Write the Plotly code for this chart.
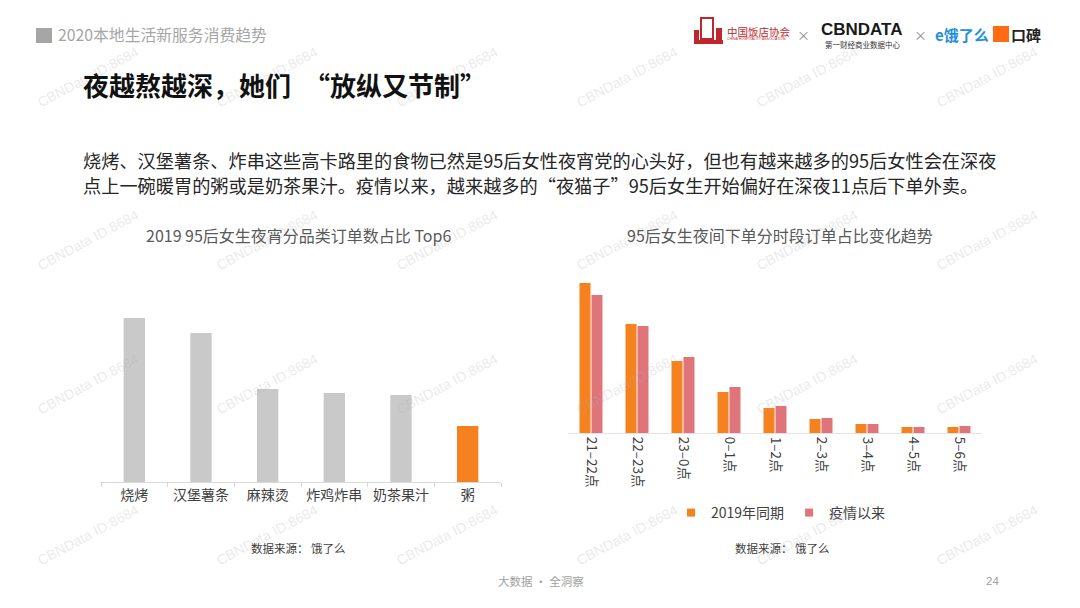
import plotly.graph_objects as go

W, H = 1080, 608
FONT = "Noto Sans CJK SC"

# ---------------- data ----------------
food_categories = ["烧烤", "汉堡薯条", "麻辣烫", "炸鸡炸串", "奶茶果汁", "粥"]
food_values = [16.4, 14.9, 9.3, 8.9, 8.7, 5.6]
food_colors = ["#C9C9C9", "#C9C9C9", "#C9C9C9", "#C9C9C9", "#C9C9C9", "#F5811F"]

time_slots = ["21–22点", "22–23点", "23–0点", "0–1点", "1–2点", "2–3点", "3–4点", "4–5点", "5–6点"]
series_2019 = [15.0, 10.9, 7.2, 4.1, 2.5, 1.4, 0.9, 0.6, 0.6]
series_covid = [13.8, 10.7, 7.6, 4.6, 2.7, 1.5, 0.9, 0.6, 0.7]
series_names = ["2019年同期", "疫情以来"]
series_colors = ["#F5811F", "#E0747B"]


def px_x(x):
    return x / W


def px_y(y):
    return 1 - y / H


fig = go.Figure()

# left chart
fig.add_trace(go.Bar(
    x=food_categories, y=food_values, marker=dict(color=food_colors, line=dict(width=0)),
    width=0.32, showlegend=False, xaxis="x", yaxis="y", hoverinfo="x+y"))

# right chart
for name, vals, col in zip(series_names, [series_2019, series_covid], series_colors):
    fig.add_trace(go.Bar(
        x=time_slots, y=vals, name=name, marker=dict(color=col, line=dict(width=0)),
        showlegend=False, xaxis="x2", yaxis="y2"))
    fig.add_trace(go.Scatter(
        x=[None], y=[None], mode="markers", name=name,
        marker=dict(symbol="square", size=8, color=col),
        xaxis="x2", yaxis="y2", showlegend=True))

axis_common = dict(showgrid=False, zeroline=False, automargin=False, fixedrange=True)

fig.update_layout(
    width=W, height=H,
    margin=dict(l=0, r=0, t=0, b=0),
    paper_bgcolor="white", plot_bgcolor="white",
    font=dict(family=FONT, color="#404040"),
    barmode="group", bargap=0.48, bargroupgap=0.08,
    xaxis=dict(domain=[px_x(101), px_x(501)], anchor="y", type="category",
               showline=True, linecolor="#D9D9D9", linewidth=1,
               ticks="outside", tickson="boundaries", ticklen=4, tickcolor="#D9D9D9",
               tickfont=dict(size=14, color="#404040", family=FONT), **axis_common),
    yaxis=dict(domain=[px_y(482), px_y(282)], anchor="x", range=[0, 20], visible=False,
               **axis_common),
    xaxis2=dict(domain=[px_x(568), px_x(982)], anchor="y2", type="category",
                showline=True, linecolor="#E3E3E3", linewidth=1, ticks="",
                tickangle=90, tickfont=dict(size=13.5, color="#404040", family=FONT),
                **axis_common),
    yaxis2=dict(domain=[px_y(433), px_y(273)], anchor="x2", range=[0, 16], visible=False,
                **axis_common),
    legend=dict(orientation="h", x=px_x(781), xanchor="center", y=px_y(513), yanchor="middle",
                font=dict(size=14, color="#404040", family=FONT), bgcolor="rgba(0,0,0,0)",
                itemwidth=30, tracegroupgap=0),
)

ann = []


def text(x, y, t, size, color, xanchor="left", bold=False, family=FONT, angle=0):
    ann.append(dict(x=px_x(x), y=px_y(y), xref="paper", yref="paper", text=("<b>%s</b>" % t) if bold else t,
                    showarrow=False, xanchor=xanchor, yanchor="middle", textangle=angle,
                    font=dict(size=size, color=color, family=family)))


# watermarks
for wy in [77, 240, 384, 535]:
    for wx in [88, 267, 447, 627, 807, 987]:
        text(wx, wy, "CBNData ID:8684", 14, "rgba(175,175,175,0.28)", xanchor="center",
             family="Liberation Sans", angle=-28)

# header
text(56, 35, "2020本地生活新服务消费趋势", 15.8, "#A6A6A6")
# logos (text approximations)
text(725, 31, "中国饭店协会", 10.5, "#C0272D")
text(725, 39.5, "CHINA HOSPITALITY ASSOCIATION", 3.5, "#C0272D", family="Liberation Sans")
text(803, 35, "×", 13, "#8C8C8C", xanchor="center")
text(862, 29, "CBNDATA", 17, "#1A1A1A", xanchor="center", bold=True, family="Liberation Sans")
text(862, 44, "第一财经商业数据中心", 7.5, "#333333", xanchor="center")
text(920, 35, "×", 13, "#8C8C8C", xanchor="center")
text(962, 34, "e饿了么", 15, "#1E8FE1", xanchor="center", bold=True)
text(1026, 34, "口碑", 15, "#222222", xanchor="center", bold=True)

# title and paragraph
text(81, 85, "夜越熬越深，她们\u2002“放纵又节制”", 26, "#111111", bold=True)
text(81, 160, "烧烤、汉堡薯条、炸串这些高卡路里的食物已然是95后女性夜宵党的心头好，但也有越来越多的95后女性会在深夜", 18.2, "#262626")
text(81, 185, "点上一碗暖胃的粥或是奶茶果汁。疫情以来，越来越多的“夜猫子”95后女生开始偏好在深夜11点后下单外卖。", 18.2, "#262626")

# chart titles
text(298, 235, "2019 95后女生夜宵分品类订单数占比 Top6", 16, "#595959", xanchor="center")
text(780, 235, "95后女生夜间下单分时段订单占比变化趋势", 16, "#595959", xanchor="center")

# sources
text(298, 548, "数据来源： 饿了么", 11.5, "#404040", xanchor="center")
text(782, 548, "数据来源： 饿了么", 11.5, "#404040", xanchor="center")

# footer
text(541, 581, "大数据 · 全洞察", 11.5, "#A0A0A0", xanchor="center")
text(992, 581, "24", 11.5, "#A0A0A0", xanchor="center", family="Liberation Sans")

fig.update_layout(annotations=ann)

shapes = [
    dict(type="rect", xref="paper", yref="paper", x0=px_x(36), x1=px_x(52), y0=px_y(43), y1=px_y(28),
         fillcolor="#A6A6A6", line=dict(width=0)),
    # red building logo approximation
    dict(type="rect", xref="paper", yref="paper", x0=px_x(701), x1=px_x(713), y0=px_y(39), y1=px_y(18),
         fillcolor="rgba(0,0,0,0)", line=dict(color="#C0272D", width=2)),
    dict(type="rect", xref="paper", yref="paper", x0=px_x(694), x1=px_x(723), y0=px_y(44), y1=px_y(40),
         fillcolor="#C0272D", line=dict(width=0)),
    dict(type="rect", xref="paper", yref="paper", x0=px_x(694), x1=px_x(699), y0=px_y(40), y1=px_y(30),
         fillcolor="#C0272D", line=dict(width=0)),
    dict(type="rect", xref="paper", yref="paper", x0=px_x(716), x1=px_x(722), y0=px_y(40), y1=px_y(28),
         fillcolor="#C0272D", line=dict(width=0)),
    # koubei orange icon
    dict(type="rect", xref="paper", yref="paper", x0=px_x(993), x1=px_x(1009), y0=px_y(42), y1=px_y(26),
         fillcolor="#FF6A13", line=dict(width=0)),
]
fig.update_layout(shapes=shapes)

fig.write_html("out.html")
